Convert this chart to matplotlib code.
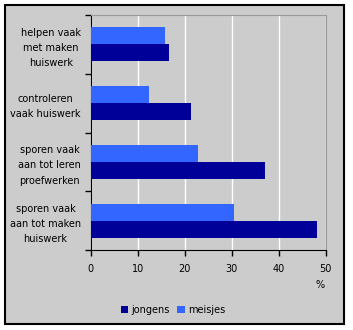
import matplotlib.pyplot as plt
import numpy as np
from matplotlib.patches import Rectangle

# Categorieën (van boven naar beneden) en percentages
categorieen = ["helpen vaak\nmet maken\nhuiswerk",
               "controleren\nvaak huiswerk",
               "sporen vaak\naan tot leren\nproefwerken",
               "sporen vaak\naan tot maken\nhuiswerk"]
jongens = [16.7, 21.3, 37.1, 48.1]
meisjes = [15.7, 12.3, 22.8, 30.5]
xticks = [0, 10, 20, 30, 40, 50]

plt.rcParams['font.family'] = 'DejaVu Sans'
plt.rcParams['font.size'] = 7

fig = plt.figure(figsize=(3.53, 3.30), dpi=100)
fig.patch.set_facecolor('white')

# grijze achtergrond met zwart kader
fig.patches.append(Rectangle((5 / 353, 6 / 330), 339 / 353, 319 / 330,
                             transform=fig.transFigure, facecolor='#cccccc',
                             edgecolor='black', linewidth=1.5, zorder=-10))

ax = fig.add_axes([0.257, 0.2424, 0.6657, 0.712])
ax.set_facecolor('#cccccc')

y = np.arange(len(categorieen))
h = 0.29
ax.barh(y - h / 2, meisjes, height=h, color='#3366ff', label='meisjes', zorder=3)
ax.barh(y + h / 2, jongens, height=h, color='#000099', label='jongens', zorder=3)

ax.set_xlim(0, 50)
ax.set_ylim(len(categorieen) - 0.5, -0.5)
ax.set_xticks(xticks)
ax.set_xticklabels([str(t) for t in xticks])
ax.grid(axis='x', color='white', linewidth=1, zorder=1)

ax.set_yticks(y)
ax.set_yticklabels(categorieen, multialignment='center', linespacing=1.65)
ax.set_yticks(np.arange(-0.5, len(categorieen)), minor=True)
ax.tick_params(axis='y', which='major', length=0, pad=7)
ax.tick_params(axis='y', which='minor', length=4, width=1, direction='out')
ax.tick_params(axis='x', length=4, width=1, direction='out', pad=6)

for s in ['top', 'right']:
    ax.spines[s].set_color('#999999')
for s in ['left', 'bottom']:
    ax.spines[s].set_color('black')

fig.text(320 / 353, 1 - 285 / 330, '%', ha='center', va='center')

handles, labels = ax.get_legend_handles_labels()
fig.legend(handles[::-1], labels[::-1], loc='center', ncol=2,
           bbox_to_anchor=(173 / 353, 1 - 310 / 330),
           frameon=False, handlelength=0.8, handleheight=0.8,
           handletextpad=0.3, columnspacing=0.8)

fig.savefig('out.png', dpi=100)
